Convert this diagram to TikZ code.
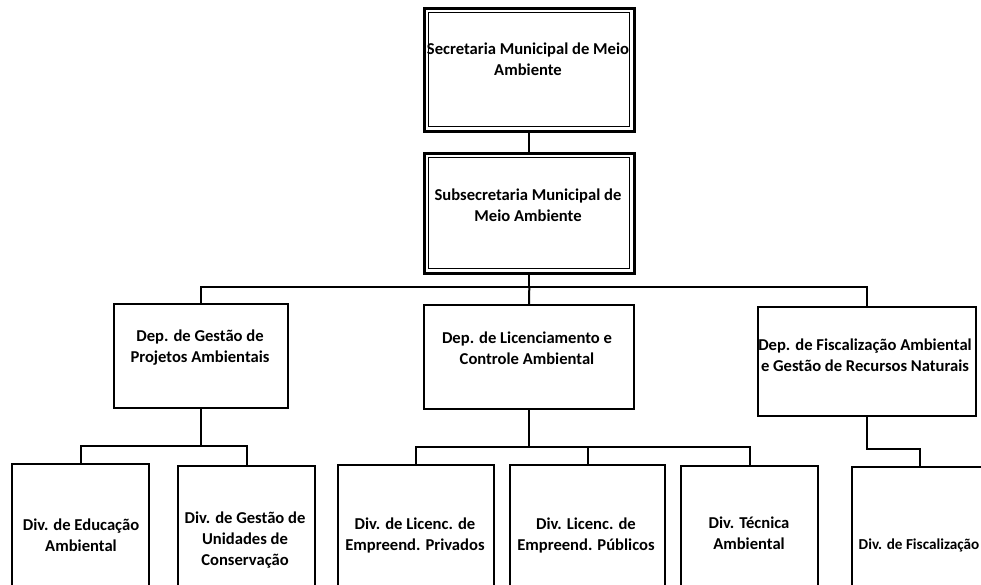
\documentclass[tikz,border=0pt]{standalone}
\usepackage{fontspec}
\setmainfont{Carlito}
\begin{document}
\begin{tikzpicture}[x=1pt,y=-1pt,
  box/.style={draw=black, line width=2pt, rectangle, inner sep=0pt, anchor=north west},
  inbox/.style={draw=black, line width=1.1pt, rectangle, inner sep=0pt},
  txt/.style={font=\fontsize{16.6}{21}\selectfont\bfseries, align=center, inner sep=0pt},
  conn/.style={draw=black, line width=2pt}]
\useasboundingbox (0,0) rectangle (981,584);
\clip (0,0) rectangle (981,584);
% top boxes (double border)
\node[box, line width=2.6pt, minimum width=210pt, minimum height=123pt] (sec) at (423,7) {};
\node[inbox, minimum width=201pt, minimum height=114pt] (seci) at (sec.center) {};
\node[box, line width=2.6pt, minimum width=210pt, minimum height=120pt] (sub) at (423,152) {};
\node[inbox, minimum width=201pt, minimum height=111pt] (subi) at (sub.center) {};
% departments
\node[box, minimum width=174pt, minimum height=104pt] (dep1) at (113,303) {};
\node[box, minimum width=210pt, minimum height=104pt] (dep2) at (423,304) {};
\node[box, minimum width=218pt, minimum height=109pt] (dep3) at (757,306) {};
% divisions (bottoms cut off)
\node[box, minimum width=137pt, minimum height=160pt] (div1) at (11,463) {};
\node[box, minimum width=137pt, minimum height=160pt] (div2) at (177,465) {};
\node[box, minimum width=156pt, minimum height=160pt] (div3) at (337,464) {};
\node[box, minimum width=155pt, minimum height=160pt] (div4) at (509,464) {};
\node[box, minimum width=137pt, minimum height=160pt] (div5) at (680,465) {};
\node[box, minimum width=136pt, minimum height=160pt] (div6) at (851,466) {};
% texts
\node[txt] (tsec) at (528,59) {Secretaria Municipal de Meio\\Ambiente};
\node[txt] (tsub) at (528,205) {Subsecretaria Municipal de\\Meio Ambiente};
\node[txt] (tdep1) at (200,348) {Dep. de Gestão de\\Projetos Ambientais};
\node[txt] (tdep2) at (527,348) {Dep. de Licenciamento e\\Controle Ambiental};
\node[txt] (tdep3) at (865,355) {Dep. de Fiscalização Ambiental\\e Gestão de Recursos Naturais};
\node[txt] (tdiv1) at (81,535) {Div. de Educação\\Ambiental};
\node[txt] (tdiv2) at (245,540) {Div. de Gestão de\\Unidades de\\Conservação};
\node[txt] (tdiv3) at (415,535) {Div. de Licenc. de\\Empreend. Privados};
\node[txt] (tdiv4) at (586,535) {Div. Licenc. de\\Empreend. Públicos};
\node[txt] (tdiv5) at (749,533) {Div. Técnica\\Ambiental};
\node[txt, font=\fontsize{15.2}{20}\selectfont\bfseries] (tdiv6) at (919,545) {Div. de Fiscalização};
% connectors
\coordinate (bus) at (sub.south |- 0,287);
\coordinate (b1) at (dep1.south |- 0,446);
\coordinate (b2) at (dep2.south |- 0,447);
\coordinate (b3) at (dep3.south |- 0,449);
\draw[conn] (sec.south) -- (sub.north);
\draw[conn] (sub.south) -- (bus);
\draw[conn] (dep1.north) -- (dep1.north |- bus) -- (dep3.north |- bus) -- (dep3.north);
\draw[conn] (bus) -- (dep2.north);
\draw[conn] (dep1.south) -- (b1);
\draw[conn] (div1.north) -- (div1.north |- b1) -- (div2.north |- b1) -- (div2.north);
\draw[conn] (dep2.south) -- (b2);
\draw[conn] (div3.north) -- (div3.north |- b2) -- (div5.north |- b2) -- (div5.north);
\draw[conn] (b2) -- (div4.north |- b2) -- (div4.north);
\draw[conn] (dep3.south) -- (b3) -- (div6.north |- b3) -- (div6.north);
\end{tikzpicture}
\end{document}
